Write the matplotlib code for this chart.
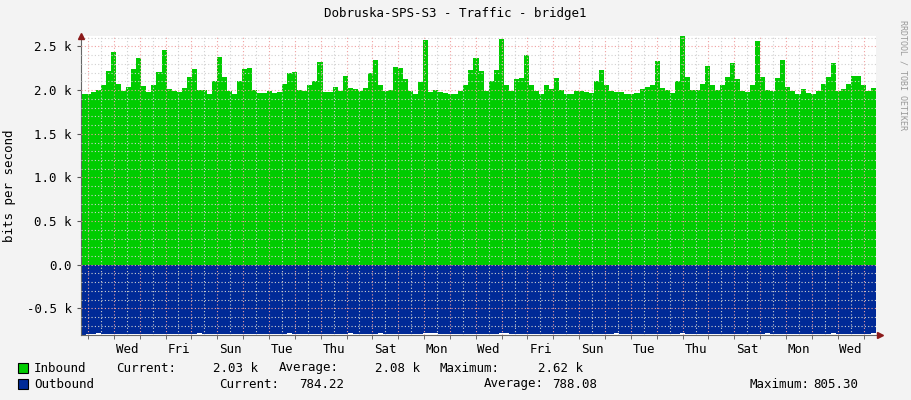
import matplotlib
matplotlib.use("Agg")
import matplotlib.pyplot as plt
import numpy as np

inbound = [1950,1960,1980,2000,2060,2220,2440,2070,1990,2040,2240,2370,2050,1980,2060,2210,2460,2010,1990,1980,
           2020,2150,2240,2000,2000,1950,2100,2380,2150,1990,1960,2110,2240,2250,2000,1970,1970,1990,1970,1980,
           2070,2200,2210,2000,1990,2060,2100,2320,1980,1980,2040,1990,2160,2030,2010,1990,2020,2200,2350,2060,
           1990,2000,2270,2250,2130,1990,1950,2090,2570,1980,2000,1980,1970,1950,1960,1990,2060,2230,2370,2220,
           1990,2110,2230,2580,2060,1990,2130,2140,2400,2060,1990,1960,2060,2010,2140,2000,1960,1960,1990,1990,
           1980,1970,2110,2230,2060,1990,1980,1980,1960,1950,1970,2010,2040,2060,2330,2020,2000,1970,2100,2620,
           2150,2000,2000,2070,2280,2060,2000,2060,2150,2310,2130,1990,1980,2060,2560,2150,2000,1990,2140,2340,
           2040,1990,1960,2010,1970,1960,1990,2070,2150,2310,1990,2010,2070,2160,2160,2060,1990,2030]
outbound = [800,795,790,785,790,795,790,792,795,790,790,788,790,793,795,790,790,788,790,792,
            795,790,788,784,790,792,790,788,790,795,790,788,790,790,793,795,790,790,788,790,
            790,786,790,795,790,788,790,790,792,790,788,790,790,786,790,795,790,790,788,784,
            790,792,790,790,788,790,795,790,786,784,786,790,795,790,788,790,790,792,795,790,
            788,790,790,784,786,790,795,790,788,790,790,792,790,788,790,795,790,790,788,790,
            792,795,790,788,790,790,786,790,795,790,790,788,790,792,795,790,788,790,790,784,
            790,792,790,788,790,795,790,788,790,790,792,795,790,788,790,790,786,790,795,790,
            788,790,790,792,795,790,788,790,790,786,790,795,790,788,790,790,792,784]
day_labels = ["Wed","Fri","Sun","Tue","Thu","Sat","Mon","Wed","Fri","Sun","Tue","Thu","Sat","Mon","Wed"]
ytick_vals = [-500,0,500,1000,1500,2000,2500]
ytick_labels = ["-0.5 k","0.0","0.5 k","1.0 k","1.5 k","2.0 k","2.5 k"]

SPAN = 30.75
OFF = 0.27
n = len(inbound)
x = np.arange(n + 1) * SPAN / n
inb = np.array(inbound + [inbound[-1]])
outb = -np.array(outbound + [outbound[-1]])

mono = "DejaVu Sans Mono"
fig = plt.figure(figsize=(9.11, 4.0), dpi=100, facecolor="#f3f3f3")
ax = fig.add_axes([81/911, 65/400, 795/911, 299/400])
ax.set_facecolor("white")
ax.fill_between(x, 0, inb, step="post", color="#00cc00", lw=0, zorder=2)
ax.fill_between(x, 0, outb, step="post", color="#002a97", lw=0, zorder=2)
ax.set_xlim(0, SPAN)
ax.set_ylim(-805, 2620)

# grid
for k in range(31):
    for h, col in ((0, "#f0a0a0"), (0.5, "#d0d0d0")):
        xv = OFF + k + h
        if xv < SPAN:
            ax.axvline(xv, color=col, lw=0.8, ls=(0, (1, 2)), zorder=3)
for yv in range(-800, 2700, 100):
    col = "#f0a0a0" if yv % 500 == 0 else "#d0d0d0"
    ax.axhline(yv, color=col, lw=0.8, ls=(0, (1, 2)), zorder=3)

ax.set_yticks(ytick_vals)
ax.set_yticklabels(ytick_labels, fontfamily=mono, fontsize=9)
ax.set_xticks([OFF + 1.5 + 2 * i for i in range(len(day_labels))])
ax.set_xticklabels(day_labels, fontfamily=mono, fontsize=9)
ax.set_xticks([OFF + k for k in range(31)] , minor=True)
ax.tick_params(axis="x", which="major", length=0, pad=6)
ax.tick_params(axis="x", which="minor", length=3, color="#555555")
ax.tick_params(axis="y", length=3, color="#555555")
for s in ("top", "right"):
    ax.spines[s].set_visible(False)
for s in ("left", "bottom"):
    ax.spines[s].set_color("#666666")
ax.set_ylabel("bits per second", fontfamily=mono, fontsize=9, labelpad=8)
ax.plot([0], [2620], marker="^", color="#8b1a1a", ms=5, clip_on=False, zorder=5)
ax.plot([SPAN + 0.15], [-805], marker=">", color="#8b1a1a", ms=5, clip_on=False, zorder=5)

fig.text(0.5, 1 - 14/400, "Dobruska-SPS-S3 - Traffic - bridge1", ha="center", va="center",
         fontfamily=mono, fontsize=9)
fig.text(903/911, 1 - 75/400, "RRDTOOL / TOBI OETIKER", rotation=270, ha="center", va="center",
         fontfamily=mono, fontsize=6, color="#999999")

def t(px, py, s, ha="left"):
    fig.text(px/911, 1 - py/400, s, ha=ha, va="center", fontfamily=mono, fontsize=9)

for py, col in ((368, "#00cc00"), (384, "#002a97")):
    fig.patches.append(plt.Rectangle((18/911, 1 - (py + 5)/400), 10/911, 10/400,
                                     transform=fig.transFigure, facecolor=col, edgecolor="black", lw=0.8))
t(34, 368, "Inbound"); t(116, 368, "Current:"); t(258, 368, "2.03 k", "right")
t(279, 368, "Average:"); t(420, 368, "2.08 k", "right")
t(439, 368, "Maximum:"); t(583, 368, "2.62 k", "right")
t(34, 384, "Outbound"); t(219, 384, "Current:"); t(299, 384, "784.22")
t(484, 384, "Average:"); t(552, 384, "788.08")
t(749, 384, "Maximum:"); t(813, 384, "805.30")

fig.savefig("out.png", dpi=100, facecolor=fig.get_facecolor())
